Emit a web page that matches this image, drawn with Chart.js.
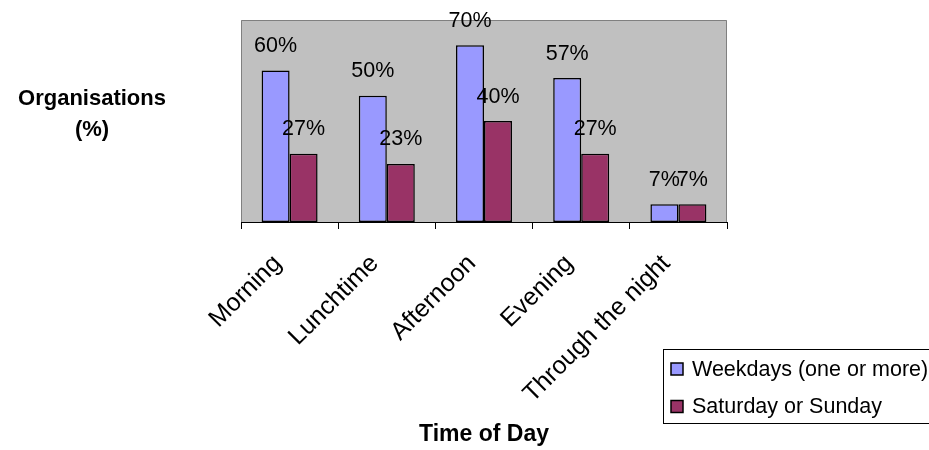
<!DOCTYPE html>
<html>
<head>
<meta charset="utf-8">
<script src="https://cdn.jsdelivr.net/npm/chart.js@4.4.1/dist/chart.umd.min.js"></script>
<style>
  html, body { margin: 0; padding: 0; background: #ffffff; }
  canvas { display: block; }
</style>
</head>
<body>
<canvas id="chart" width="929" height="450"></canvas>
<script>
// Survey data: share of organisations active at each time of day
const categories = ['Morning', 'Lunchtime', 'Afternoon', 'Evening', 'Through the night'];
const weekdays = [60, 50, 70, 57, 7];
const weekend = [27, 23, 40, 27, 7];
const seriesNames = ['Weekdays (one or more)', 'Saturday or Sunday'];
const seriesColors = ['#9999FF', '#993366'];
const yTitleLines = ['Organisations', '(%)'];
const xTitle = 'Time of Day';
const yMin = 0;
const yMax = 80;

const FONT = '"Liberation Sans", Arial, Helvetica, sans-serif';

// Grey plot area with a thin darker frame
const plotArea = {
  id: 'plotArea',
  beforeDraw(chart) {
    const { ctx, chartArea: a } = chart;
    ctx.save();
    ctx.fillStyle = '#C0C0C0';
    ctx.fillRect(a.left, a.top, a.right - a.left, a.bottom - a.top);
    ctx.strokeStyle = '#808080';
    ctx.lineWidth = 1;
    ctx.beginPath();
    ctx.moveTo(a.left + 0.5, a.bottom);
    ctx.lineTo(a.left + 0.5, a.top + 0.5);
    ctx.lineTo(a.right - 0.5, a.top + 0.5);
    ctx.lineTo(a.right - 0.5, a.bottom);
    ctx.stroke();
    ctx.restore();
  }
};

// Percentage labels above each bar
const valueLabels = {
  id: 'valueLabels',
  afterDatasetsDraw(chart) {
    const { ctx } = chart;
    ctx.save();
    ctx.font = '21.5px ' + FONT;
    ctx.fillStyle = '#000';
    ctx.textAlign = 'center';
    ctx.textBaseline = 'alphabetic';
    chart.data.datasets.forEach((ds, i) => {
      const meta = chart.getDatasetMeta(i);
      meta.data.forEach((bar, j) => {
        ctx.fillText(ds.data[j] + '%', bar.x, bar.y - 18.5);
      });
    });
    ctx.restore();
  }
};

// Horizontal two-line value-axis title and the boxed legend
const extras = {
  id: 'extras',
  afterDraw(chart) {
    const { ctx } = chart;
    ctx.save();
    ctx.fillStyle = '#000';
    ctx.font = 'bold 22px ' + FONT;
    ctx.textAlign = 'center';
    ctx.textBaseline = 'alphabetic';
    ctx.fillText(yTitleLines[0], 92, 105);
    ctx.fillText(yTitleLines[1], 92, 136);

    // legend frame
    const lx = 663, ly = 349, lb = 423;
    ctx.strokeStyle = '#000';
    ctx.lineWidth = 1;
    ctx.strokeRect(lx + 0.5, ly + 0.5, 400, lb - ly);
    ctx.font = '21.5px ' + FONT;
    ctx.textAlign = 'left';
    ctx.textBaseline = 'middle';
    const rows = [369, 406.5];
    chart.data.datasets.forEach((ds, i) => {
      const cy = rows[i];
      ctx.fillStyle = ds.backgroundColor;
      ctx.fillRect(671, cy - 6, 12, 12);
      ctx.strokeStyle = '#000';
      ctx.lineWidth = 1.5;
      ctx.strokeRect(671, cy - 6, 12, 12);
      ctx.fillStyle = '#000';
      ctx.fillText(ds.label, 692, cy + 1);
    });
    ctx.restore();
  }
};

const barStyle = {
  borderColor: '#000000',
  borderWidth: 1.5,
  borderSkipped: false,
  categoryPercentage: 0.576,
  barPercentage: 1.0
};

new Chart(document.getElementById('chart'), {
  type: 'bar',
  data: {
    labels: categories,
    datasets: [
      Object.assign({ label: seriesNames[0], data: weekdays, backgroundColor: seriesColors[0] }, barStyle),
      Object.assign({ label: seriesNames[1], data: weekend, backgroundColor: seriesColors[1] }, barStyle)
    ]
  },
  options: {
    responsive: false,
    animation: false,
    devicePixelRatio: 1,
    layout: { padding: { left: 241, right: 202, top: 20, bottom: 0 } },
    plugins: {
      legend: { display: false },
      tooltip: { enabled: false }
    },
    scales: {
      x: {
        grid: {
          offset: true,
          drawOnChartArea: false,
          drawTicks: true,
          tickLength: 7,
          color: '#000000',
          lineWidth: 1
        },
        border: { display: true, color: '#000000', width: 1 },
        ticks: {
          autoSkip: false,
          minRotation: 45,
          maxRotation: 45,
          padding: 20,
          labelOffset: -12,
          color: '#000000',
          font: { family: FONT, size: 25 }
        },
        title: {
          display: true,
          text: xTitle,
          color: '#000000',
          font: { family: FONT, size: 23, weight: 'bold' },
          padding: { top: 0, bottom: 2 }
        },
        afterFit(scale) { scale.height = 228; }
      },
      y: { display: false, min: yMin, max: yMax }
    }
  },
  plugins: [plotArea, valueLabels, extras]
});
</script>
</body>
</html>
